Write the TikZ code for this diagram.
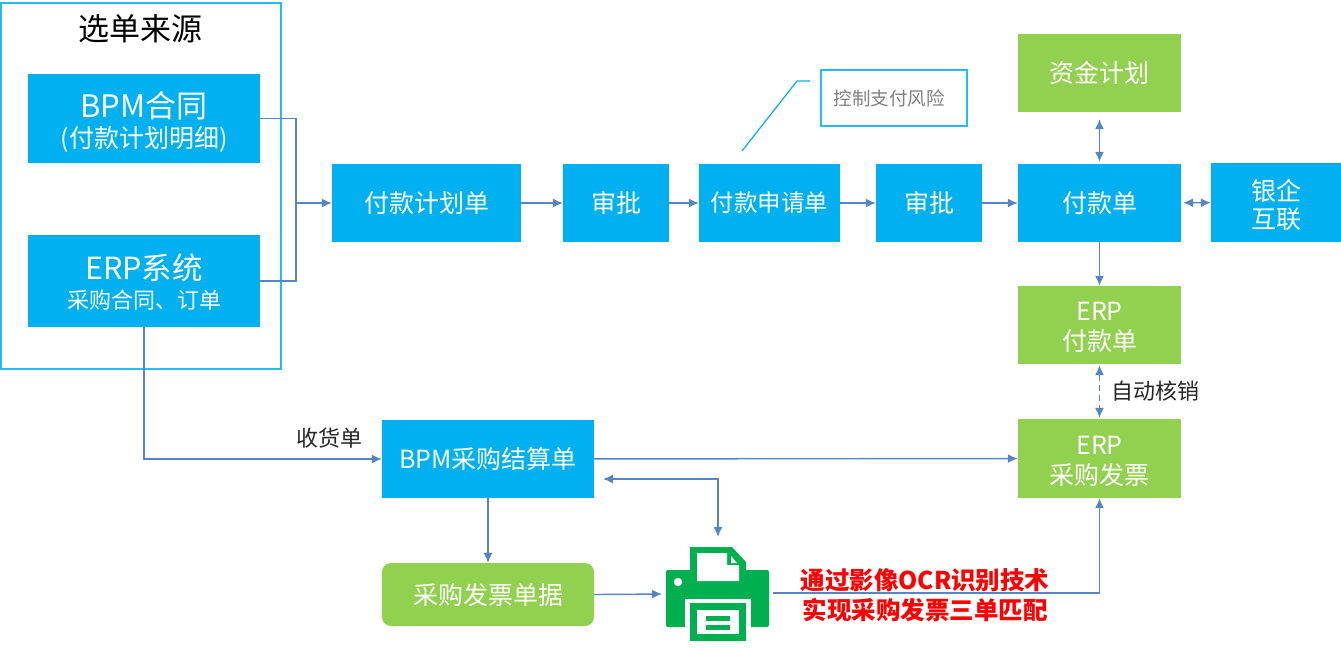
\documentclass[tikz,border=0pt]{standalone}
\usepackage{fontspec}
\setmainfont{Noto Sans CJK SC}
\usetikzlibrary{arrows.meta,
                positioning}
\definecolor{boxblue}{HTML}{00B0F0}
\definecolor{boxgreen}{HTML}{92D050}
\definecolor{linkblue}{HTML}{5585C5}
\definecolor{printgreen}{HTML}{00B050}
\newcommand{\fs}[1]{\fontsize{#1}{#1}\selectfont}
\newcommand{\topgap}[1]{\rule{0pt}{#1pt}}
\tikzset{bluebox/.style =
   {rectangle,
    fill=boxblue,
    text=white,
    align=center,
    inner sep=0pt,
    font=\fontsize{25}{30}\selectfont}}
\tikzset{greenbox/.style = {bluebox, fill=boxgreen}}
\tikzset{arrow/.style = {draw=linkblue, line width=1.4pt, -{Latex[length=10pt,width=9pt]}}}
\tikzset{twoway/.style = {draw=linkblue, line width=1.4pt, {Latex[length=10pt,width=9pt]}-{Latex[length=10pt,width=9pt]}}}
\tikzset{plainlink/.style = {draw=linkblue, line width=1.4pt}}
\tikzset{outline/.style = {draw=boxblue!85!white, line width=1.5pt, fill=white, inner sep=0pt}}
\tikzset{caption/.style = {inner sep=0pt, text=black!85, font=\fs{22}}}

\begin{document}
\begin{tikzpicture}[x=1pt, y=-1pt]
    \useasboundingbox (0,0) rectangle (1341,650);

    \node [outline, minimum width=280pt, minimum height=366pt] (source) at (141,186) {};
    \node [inner sep=0pt, font=\fs{31}] (sourcetitle) at (140,29) {选单来源};

    \node [bluebox, minimum width=232pt, minimum height=89pt] (bpm) at (144,118.5)
    {\topgap{32}\fs{31}BPM合同\\[0pt]\fs{25}(付款计划明细)};
    \node [bluebox, minimum width=232pt, minimum height=92pt] (erp) at (144,281)
    {\topgap{28}\fs{30.5}ERP系统\\[-1pt]\fs{22}采购合同、订单};

    \node [bluebox, minimum width=189pt, minimum height=78pt] (plan) at (426.5,203) {付款计划单};
    \node [bluebox, minimum width=106pt, minimum height=78pt] (approvea) at (616,203) {审批};
    \node [bluebox, font=\fs{23.5}, minimum width=141pt, minimum height=78pt] (apply) at (769.5,203) {付款申请单};
    \node [bluebox, minimum width=106pt, minimum height=78pt] (approveb) at (929,203) {审批};
    \node [bluebox, minimum width=163pt, minimum height=78pt] (pay) at (1099.5,203) {付款单};
    \node [bluebox, minimum width=130pt, minimum height=79pt] (bank) at (1276,202.5) {\topgap{26}银企\\[-2pt]互联};

    \node [greenbox, minimum width=163pt, minimum height=78pt] (fund) at (1099.5,73) {资金计划};
    \node [greenbox, minimum width=163pt, minimum height=78pt] (erppay) at (1099.5,325) {\topgap{24}ERP\\付款单};
    \node [greenbox, minimum width=163pt, minimum height=79pt] (erpinv) at (1099.5,458.5) {\topgap{24}ERP\\采购发票};

    \node [bluebox, minimum width=212pt, minimum height=78pt] (settle) at (488,459) {BPM采购结算单};
    \node [greenbox, rounded corners=9pt, minimum width=212pt, minimum height=63pt] (invoice) at (488,594.5) {采购发票单据};

    \node [outline, text=black!50, font=\fs{18.5}, minimum width=146pt, minimum height=56pt] (note) at (894,98) {控制支付风险\hspace*{10pt}};
    \coordinate (notefoot) at (742,151);
    \coordinate (noteelbow) at (797,81);
    \coordinate (noteend) at (810,81);
    \draw [boxblue, line width=1.2pt] (notefoot) -- (noteelbow) -- (noteend);

    \node [inner sep=0pt, minimum width=103pt, minimum height=94pt] (printer) at (717.5,593) {};
    \fill [printgreen, rounded corners=2pt] (666,570) rectangle (769,627);
    \fill [printgreen] (690,575) -- (690,547) -- (732,547) -- (746,562) -- (746,575) -- cycle;
    \fill [white] (697,553) -- (727,553) -- (727,565) -- (739,565) -- (739,581) -- (697,581) -- cycle;
    \fill [white] (731,556) -- (737,563) -- (731,563) -- cycle;
    \fill [white] (678,582) circle (4.2);
    \fill [white] (685,599) rectangle (751,628);
    \fill [printgreen] (690,603) rectangle (746,641);
    \fill [white] (697,610) rectangle (739,634);
    \fill [printgreen] (706,616) rectangle (730,621);
    \fill [printgreen] (706,625) rectangle (730,630);

    \coordinate (merge) at (296,203);
    \draw [plainlink] (bpm.east) -| (merge);
    \draw [plainlink] (erp.east) -| (merge);
    \draw [arrow] (merge) -- (plan.west);

    \draw [arrow] (plan) -- (approvea);
    \draw [arrow] (approvea) -- (apply);
    \draw [arrow] (apply) -- (approveb);
    \draw [arrow] (approveb) -- (pay);
    \draw [twoway, shorten <=2pt] (pay) -- (bank);
    \draw [twoway, shorten <=7pt, shorten >=2pt] (fund) -- (pay);
    \draw [arrow] (pay) -- (erppay);
    \draw [twoway, dash pattern=on 6pt off 4pt, shorten <=1pt, shorten >=1pt] (erppay) -- (erpinv)
     node [caption, midway, right=11pt] (autotext) {自动核销};

    \draw [arrow] (erp.south) |- (settle.west)
     node [caption, pos=0.89, above=10pt] (receipt) {收货单};
    \draw [arrow] (settle) -- (erpinv);
    \draw [arrow] (settle) -- (invoice);

    \coordinate (backtip) at (603,479);
    \coordinate (printertop) at (718,537);
    \draw [twoway] (backtip) -| (printertop);

    \coordinate (printerleft) at (662,594);
    \coordinate (printerright) at (773,593);
    \draw [arrow] (invoice.east) -- (printerleft);
    \draw [arrow] (printerright) -| (erpinv.south);

    \node [inner sep=0pt, align=center, text=red, font=\fontsize{24.5}{30}\selectfont\bfseries] (ocr) at (925,595.5)
    {通过影像OCR识别技术\\实现采购发票三单匹配};

\end{tikzpicture}
\end{document}
